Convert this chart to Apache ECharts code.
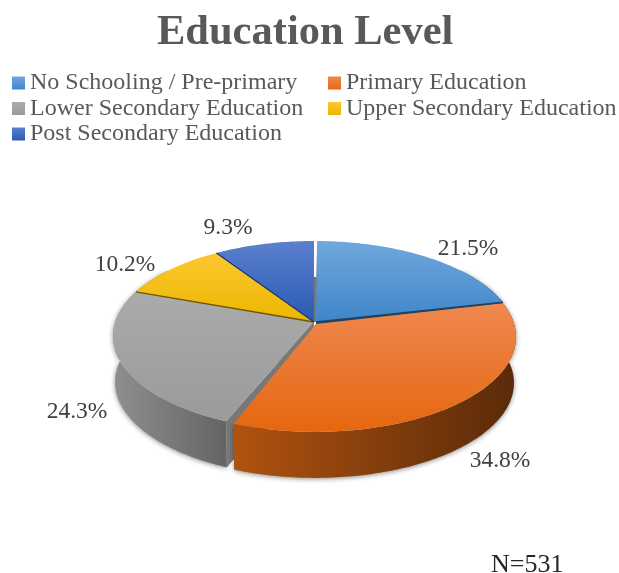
<!DOCTYPE html>
<html><head><meta charset="utf-8">
<style>html,body{margin:0;padding:0;background:#fff}#c{width:619px;height:573px}</style>
<script src="https://cdn.jsdelivr.net/npm/echarts@6/dist/echarts.min.js"></script></head>
<body><div id="c"></div>
<script>
const categories = ['No Schooling / Pre-primary','Primary Education','Lower Secondary Education','Upper Secondary Education','Post Secondary Education'];
const shares = [21.5,34.8,24.3,10.2,9.3];
const titleText = 'Education Level';
const noteText = 'N=531';

// styling / layout (not data)
const topColors = [['#70a8de','#3f86c8'],['#ef8850','#e5670f'],['#ababab','#9a9a9a'],['#fdc830','#ebb600'],['#5b80cd','#2a5ab3']];
const wallColors = [['#2f6596','#234e76'],['#b0530f','#5a2a0a'],['#8f8f8f','#646464'],['#a07c00','#7a5f00'],['#1f4587','#1a3a72']];
const edgeColors = ['#1d4468','#8a4410','#787878','#6f5600','#1a3a72'];
const shifts = [[1,0],[1,1],[0,0],[0,0],[0,0]];
const apexNudges = [[1,0],[1,1],[0,0],[0,0],[0,0]];
const trims = [[0.7,0],[0,1.8],[0,0],[0,0],[0,0]];
const cutLines = [[null,'#1d4468'],[null,null],[null,null],['#6f5600',null],['#1a3a72',null]];
const labelAnchors = [[468,249],[500,461],[77,412],[125,265],[228,228]];
const CX=314, CY=322, A=198.8, B=92.9, P=0.147, DEPTH=46;
const FONT='"Liberation Serif","Times New Roman",serif';

function grad(c,horizontal){return {type:'linear',x:0,y:0,x2:horizontal?1:0,y2:horizontal?0:1,colorStops:[{offset:0,color:c[0]},{offset:1,color:c[1]}]};}
const total = shares.reduce((s,v)=>s+v,0);
function project(theta,i,low){
  const u=Math.sin(theta),v=Math.cos(theta),den=1+P*v;
  const a=low?A-2:A;
  return [CX+shifts[i][0]+a*u/den, CY+shifts[i][1]+(low?DEPTH:0)-B*v/den];
}
function apex(i,low){return [CX+shifts[i][0]+apexNudges[i][0],CY+shifts[i][1]+apexNudges[i][1]+(low?DEPTH:0)];}

function renderSlice(i){
  return function(params,api){
    const val=api.value(0);
    let before=0; for(let k=0;k<i;k++) before+=shares[k];
    const deg=Math.PI/180;
    const t0=before/total*2*Math.PI+trims[i][0]*deg, t1=(before+val)/total*2*Math.PI-trims[i][1]*deg;
    const steps=Math.max(8,Math.round((t1-t0)/deg));
    const upper=[],lower=[],wallUp=[],wallLow=[];
    for(let s=0;s<=steps;s++){
      const t=t0+(t1-t0)*s/steps;
      const up=project(t,i,false),lo=project(t,i,true);
      upper.push(up);lower.push(lo);
      if(Math.cos(t)<0.6){wallUp.push(up);wallLow.push(lo);}
    }
    const poly=(pts,style,z2)=>({type:'polygon',z2:z2,shape:{points:pts},style:style});
    const cut=(p,color)=>({type:'line',z2:11,shape:{x1:apex(i,false)[0],y1:apex(i,false)[1],x2:p[0],y2:p[1]},style:{stroke:color,lineWidth:1.4}});
    const isFrontWall=i===1;
    const endZ=i===2?3:2;
    const kids=[
      poly([apex(i,false),upper[0],lower[0],apex(i,true)],{fill:edgeColors[i]},2),
      poly([apex(i,false),upper[steps],lower[steps],apex(i,true)],{fill:edgeColors[i]},endZ),
      poly([apex(i,false)].concat(upper),{fill:grad(topColors[i],false)},10),
      {type:'text',z2:20,style:{text:val.toFixed(1)+'%',x:labelAnchors[i][0],y:labelAnchors[i][1],align:'center',verticalAlign:'middle',font:'23.5px '+FONT,fill:'#404040'}}
    ];
    // the far side only shows as a grey strip low in the gap at twelve o'clock
    if(i===4) kids[0]=poly([[upper[steps][0]-1,upper[steps][1]+36],[upper[steps][0]+3,upper[steps][1]+36],[upper[steps][0]+3,upper[steps][1]+81],[upper[steps][0]-1,upper[steps][1]+81]],{fill:'#777777'},2);
    if(i===4) kids[1]=poly([apex(i,false),upper[0],lower[0],apex(i,true)],{fill:edgeColors[i]},2);
    if(wallUp.length>1) kids.unshift(poly(wallUp.concat(wallLow.slice().reverse()),{fill:grad(wallColors[i],true),shadowBlur:5,shadowColor:'rgba(0,0,0,0.45)',shadowOffsetX:0,shadowOffsetY:1},isFrontWall?4:1));
    if(cutLines[i][0]) kids.push(cut(upper[0],cutLines[i][0]));
    if(cutLines[i][1]) kids.push(cut(upper[steps],cutLines[i][1]));
    return {type:'group',children:kids};
  };
}
const legendText={color:'#595959',fontSize:24,fontFamily:FONT};
const mkLegend=(names,left)=>({orient:'vertical',left:left,top:71,itemWidth:13,itemHeight:13,itemGap:1.5,padding:0,icon:'rect',textStyle:legendText,
  data:names.map(n=>({name:n,icon:'rect',itemStyle:{color:grad(topColors[categories.indexOf(n)],false)}}))});
const option={
  animation:false,
  title:{text:titleText,left:157,top:12,padding:0,textStyle:{color:'#595959',fontSize:42.5,fontWeight:'bold',fontFamily:FONT}},
  legend:[mkLegend([categories[0],categories[2],categories[4]],12),mkLegend([categories[1],categories[3]],328)],
  graphic:[{type:'text',left:491,top:552,style:{text:noteText,font:'26px '+FONT,fill:'#262626'}}],
  series:categories.map((c,i)=>({type:'custom',name:c,coordinateSystem:'none',silent:true,
    itemStyle:{color:topColors[i][1]},renderItem:renderSlice(i),data:[[shares[i]]]}))
};
echarts.init(document.getElementById('c'),null,{renderer:'canvas'}).setOption(option);
</script></body></html>
